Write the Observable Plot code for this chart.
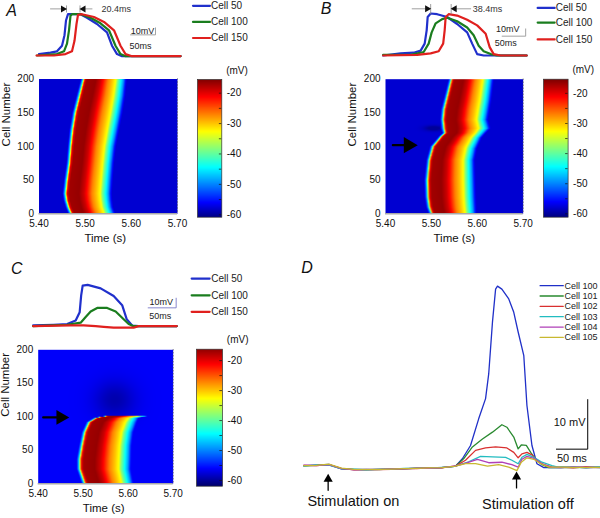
<!DOCTYPE html>
<html><head><meta charset="utf-8">
<script src="https://cdn.jsdelivr.net/npm/d3@7"></script>
<script src="https://cdn.jsdelivr.net/npm/@observablehq/plot@0.6"></script>
<style>
html,body{margin:0;padding:0;background:#fff}
#page{position:relative;width:600px;height:518px;overflow:hidden;font-family:"Liberation Sans",Arial,sans-serif}
#page svg{position:absolute;display:block}
#page svg image{filter:blur(.4px)}
</style></head><body><div id="page"></div>
<script>
// ---------- Jet colour scale (mV) ----------
const jetMv = [-61,-56,-44.4,-32.6,-21.2,-15.5];
const jetColors = ["#000080","#0000ff","#00ffff","#ffff00","#ff0000","#800000"];
const mvTicks = [-60,-50,-40,-30,-20];
const mvMinor = [-60,-55,-50,-45,-40,-35,-30,-25,-20];

// ---------- Voltage across one action potential, as seen along a row of the maps ----------
const phasePos = [-0.11,-0.07,-0.035,-0.015,0,0.025,0.07,0.3,0.42,0.5,0.61,0.72,0.81,0.85,0.93,1.0,1.05,1.12];
const phaseMv  = [-60,-54,-46,-36,-28,-20,-17,-16.5,-19,-22,-27,-30,-33,-38,-44,-49,-55,-60];

// ---------- Panel A map ----------
const aCells = [0,10,20,30,50,75,100,125,150,175,200];
const aOnset = [5.471,5.465,5.461,5.459,5.462,5.467,5.470,5.474,5.480,5.489,5.498];
const aEnd   = [5.558,5.553,5.551,5.550,5.552,5.555,5.559,5.566,5.573,5.579,5.583];
// ---------- Panel B map ----------
const bOnsetCells = [0,10,25,50,80,100,115,120,127,140,155,180,200];
const bOnset = [5.502,5.497,5.494,5.493,5.497,5.505,5.523,5.531,5.529,5.527,5.529,5.538,5.545];
const bEndCells = [0,25,50,80,97,113,123,127,140,168,200];
const bEnd = [5.591,5.589,5.588,5.587,5.592,5.603,5.616,5.621,5.616,5.623,5.629];
// ---------- Panel C map ----------
const cCells = [0,22,37,57,77,92,98.5,101];
const cOnset = [5.505,5.494,5.494,5.499,5.505,5.515,5.531,5.553];
const cEnd   = [5.605,5.599,5.600,5.601,5.605,5.613,5.618,5.639];

// ---------- Traces, panel A (ms, mV above rest) ----------
const aBlueT=[5,28,41,51,56,59,63,88,101,121,141,151,161,171,181];
const aBlueV=[3,5,7,15,30,51,60,60,55,46,34,15,3,0,0];
const aGreenT=[1,41,55,61,65,68,71,88,108,128,145,158,168,178];
const aGreenV=[1,3,7,18,37,58,60,60,55,47,37,15,3,0];
const aRedT=[0,35,58,71,76,80,83,91,115,135,155,168,178,191,288];
const aRedV=[1,1,3,7,22,46,59,60,56,49,37,15,3,0,0];
// ---------- Traces, panel B ----------
const bBlueT=[35,61,75,83,87,89,95,108,128,148,168,178,188,201,218];
const bBlueV=[3,4,7,17,36,55,60,59,55,45,33,17,2,0,0];
const bGreenT=[0,55,81,91,97,105,118,128,148,168,181,191,201,215,228];
const bGreenV=[1,1,5,17,33,46,52,54,49,40,29,14,6,2,0];
const bRedT=[0,68,95,111,120,123,125,131,148,168,188,205,213,221,235,287];
const bRedV=[0,1,3,6,17,36,55,59,57,51,43,31,12,2,0,0];
// ---------- Traces, panel C ----------
const cBlueT=[0,41,68,85,93,96,99,109,135,161,178,187,198,211];
const cBlueV=[1,2,3,8,20,44,58,59,54,43,30,10,1,0];
const cGreenT=[0,68,95,105,115,128,148,165,181,191,201,211];
const cGreenV=[0,2,5,13,21,26,26,21,10,3,0,0];
const cRedT=[0,75,101,125,141,161,201,211,287];
const cRedV=[0,1,1,0,-1,-2,-2,0,0];
// ---------- Traces, panel D ----------
const dLeftT=[0,20,40,60,80,100,120,140,160,180,200,220,240];
const dTailT=[410,430,450,473];
const d100L=[.30,.40,.55,-.35,-.50,-.55,-.45,-.40,-.30,-.25,-.25,-.10,.15];
const d101L=[.25,.35,.45,-.30,-.45,-.45,-.50,-.35,-.35,-.20,-.20,-.10,.15];
const d102L=[.35,.30,.50,-.25,-.55,-.50,-.50,-.45,-.30,-.30,-.15,-.15,.20];
const d103L=[.25,.40,.40,-.35,-.40,-.55,-.40,-.40,-.25,-.25,-.20,-.05,.15];
const d104L=[.40,.30,.50,-.30,-.50,-.45,-.45,-.35,-.35,-.20,-.25,-.10,.20];
const d105L=[.30,.35,.60,-.20,-.45,-.50,-.45,-.40,-.30,-.25,-.15,-.10,.15];
const d100T=[242,253,266,279,290,295,301,306,309,316,327,335,342,351,356,364,372,383,396];
const d100V=[.2,1.7,4.4,9.8,13.9,18.9,29.4,36.1,36.7,36.1,34.1,31.4,27.4,22.6,12.5,4.4,.7,-.1,-.1];
const d101T=[242,255,269,285,301,316,324,335,342,347,355,362,370,380,391];
const d101V=[.2,1.7,4.1,5.7,7.1,8.6,8.1,6.1,3.7,4.5,4.4,3.0,1.6,.5,-.1];
const d102T=[242,258,274,290,306,324,335,342,348,356,364,372,383,396];
const d102V=[.2,1.4,3.4,3.9,4.1,3.9,3.0,1.9,2.7,3.0,2.5,1.4,.5,0];
const d103T=[242,263,282,301,322,332,342,348,356,367,380,396,407];
const d103V=[.2,1.1,2.2,2.1,2.0,1.4,.7,2.0,2.6,2.0,1.0,.3,-.05];
const d104T=[242,261,277,295,316,332,342,348,356,367,380,394];
const d104V=[.2,.9,1.6,.9,1.0,.5,0,1.6,2.2,1.8,.7,0];
const d105T=[242,258,274,293,311,327,340,347,356,367,378,391];
const d105V=[.2,.7,.7,.2,.5,0,-.7,1.0,1.9,1.6,.7,0];
const dTails=[[-.1,.05,-.15,0],[-.05,-.1,0,-.1],[0,-.15,.05,-.05],[.05,-.05,-.1,.05],[-.1,0,-.05,-.1],[0,-.05,-.1,-.05]];
const dNames=["Cell 100","Cell 101","Cell 102","Cell 103","Cell 104","Cell 105"];
const dColors=["#2030c8","#2a8a30","#d93030","#22bcc0","#b040b8","#c8b830"];

const font = '"Liberation Sans",Arial,sans-serif';
const colorOpt = {type:"linear",domain:jetMv,range:jetColors,interpolate:"rgb"};
const page = document.getElementById("page");
function place(svg,left,top){svg.style.left=left+"px";svg.style.top=top+"px";svg.style.background="none";page.appendChild(svg);}
const lerp = (xs,ys) => d3.scaleLinear().domain(xs).range(ys).clamp(true);

// ---------- Map + axes ----------
function heat({left,top,mL,mT,iW,iH,onsetCells,onset,endCells,end,bg,blobs=[],extra=[],labelDx=0}){
  const fO=lerp(onsetCells,onset), fE=lerp(endCells,end), fP=lerp(phasePos,phaseMv);
  const maxCell=onsetCells[onsetCells.length-1];
  const volt=(t,c)=>{
    let b=bg;
    for(const [t0,c0,rt,rc,d] of blobs) b+=d*Math.exp(-(((t-t0)/rt)**2)-(((c-c0)/rc)**2));
    if(c>maxCell) return b;
    const o=fO(c),e=fE(c);
    return Math.max(b,fP((t-o)/(e-o)));
  };
  const W=mL+iW+14,H=mT+iH+40;
  const svg=Plot.plot({width:W,height:H,marginLeft:mL,marginRight:14,marginTop:mT,marginBottom:40,
    style:{fontFamily:font,background:"none",overflow:"visible",color:"#111"},
    x:{domain:[5.4,5.7]},y:{domain:[0,200]},color:colorOpt,
    marks:[
      Plot.raster({x1:5.4,x2:5.7,y1:0,y2:200,fill:volt,pixelSize:1}),
      Plot.ruleY([0],{stroke:"#a8a8a8",strokeWidth:1.5}),
      Plot.ruleX([5.7],{stroke:"#555",strokeDasharray:"1 2"}),
      Plot.axisX({ticks:[5.4,5.5,5.6,5.7],tickFormat:d3.format(".2f"),tickSize:0,tickPadding:6,label:null,fontSize:10}),
      Plot.axisY({ticks:[0,50,100,150,200],tickSize:0,tickPadding:5,label:null,fontSize:10}),
      Plot.text(["Time (s)"],{frameAnchor:"bottom",dx:labelDx,dy:28.5,fontSize:11.5,fill:"#111"}),
      Plot.text(["Cell Number"],{frameAnchor:"left",dx:-33,rotate:-90,fontSize:11.5,fill:"#111"}),
      ...extra
    ]});
  place(svg,left,top);
}
function blackArrow(tail,center,tip,cell,r){
  return [
    Plot.line([[tail,cell],[center,cell]],{stroke:"#000",strokeWidth:2.2}),
    Plot.dot([[center,cell]],{symbol:"triangle",rotate:90,r,fill:"#000",stroke:"none"})
  ];
}
// ---------- Colour bar ----------
function bar({left,top,iW,mT,iH,dom,labelY}){
  const svg=Plot.plot({width:iW+6+30,height:mT+iH+6,marginLeft:6,marginRight:30,marginTop:mT,marginBottom:6,
    style:{fontFamily:font,background:"none",overflow:"visible",color:"#111"},
    x:{domain:[0,1],axis:null},y:{domain:dom},color:colorOpt,
    marks:[
      Plot.raster({x1:0,x2:1,y1:dom[0],y2:dom[1],fill:(x,y)=>y,pixelSize:1}),
      Plot.ruleY(mvMinor,{x1:0.9,x2:1,stroke:"#111",strokeWidth:.7}),
      Plot.frame({stroke:"#333",strokeWidth:.7}),
      Plot.axisY({anchor:"right",ticks:mvTicks,tickSize:0,tickPadding:5,tickFormat:d=>String(d),label:null,fontSize:10}),
      Plot.text(["(mV)"],{frameAnchor:"top-right",dx:26,dy:labelY,textAnchor:"end",fontSize:10,fill:"#111"})
    ]});
  place(svg,left,top);
}
// ---------- Traces ----------
const col={b:"#2030cc",g:"#1a7d1e",r:"#e0201e"};
function toRows(T,V){return T.map((t,i)=>({t,v:V[i]}));}
function traces({left,top,W,H,x0,y0,pxMs,pxMv,lines,marks,lw=2.2}){
  const svg=Plot.plot({width:W,height:H,margin:0,
    style:{fontFamily:font,background:"none",overflow:"visible",color:"#111"},
    x:{domain:[-x0/pxMs,(W-x0)/pxMs],axis:null},
    y:{domain:[(y0-H)/pxMv,y0/pxMv],axis:null},
    marks:[
      ...lines.map(l=>Plot.line(toRows(l.T,l.V),{x:"t",y:"v",stroke:l.c,strokeWidth:lw,strokeLinejoin:"round"})),
      ...marks
    ]});
  place(svg,left,top);
}
function legend(x1,x2,xt,ys,names,colors,fs,lw){
  return names.flatMap((n,i)=>[
    Plot.line([[x1,ys[i]],[x2,ys[i]]],{stroke:colors[i],strokeWidth:lw}),
    Plot.text([[xt,ys[i]]],{text:()=>n,textAnchor:"start",fontSize:fs,fill:"#222"})
  ]);
}
function caliper(y,lLine,lTip,rTip,rLine,tY1,tY2,label,labelX){
  const g="#888";
  return [
    Plot.line([[lLine,y],[lTip-4,y]],{stroke:g,strokeWidth:.8}),
    Plot.line([[rTip+4,y],[rLine,y]],{stroke:g,strokeWidth:.8}),
    Plot.line([[lTip,tY1],[lTip,tY2]],{stroke:g,strokeWidth:.8}),
    Plot.line([[rTip,tY1],[rTip,tY2]],{stroke:g,strokeWidth:.8}),
    Plot.dot([[lTip-7,y]],{symbol:"triangle",rotate:90,r:2.6,fill:"#111",stroke:"none"}),
    Plot.dot([[rTip+7,y]],{symbol:"triangle",rotate:-90,r:2.6,fill:"#111",stroke:"none"}),
    Plot.text([[labelX,y]],{text:()=>label,textAnchor:"start",fontSize:9,fill:"#333"})
  ];
}
function scaleBar(x1,x2,y1,y2,c,t1,t2){
  return [
    Plot.line([[x1,y1],[x2,y1],[x2,y2]],{stroke:c,strokeWidth:.9}),
    Plot.text([[t1[0],t1[1]]],{text:()=>"10mV",fontSize:9,fill:"#222"}),
    Plot.text([[t2[0],t2[1]]],{text:()=>"50ms",fontSize:9,fill:"#222"})
  ];
}
function letter(s,x,y){return Plot.text([[x,y]],{text:()=>s,fontSize:16,fontStyle:"italic",fill:"#111"});}
const cell3=["Cell 50","Cell 100","Cell 150"], col3=[col.b,col.g,col.r];

// Panel A
traces({left:0,top:0,W:290,H:70,x0:36,y0:55.7,pxMs:.5,pxMv:.7,
  lines:[{T:aBlueT.concat([288]),V:aBlueV.concat([0]),c:col.b},{T:aGreenT.concat([288]),V:aGreenV.concat([0]),c:col.g},{T:aRedT,V:aRedV,c:col.r}],
  marks:[letter("A",-50,65),
    ...caliper(67.6,28,60,87,111,63,72,"20.4ms",130),
    ...scaleBar(188,238,30.5,40.5,"#999",[212,36],[208,15]),
    ...legend(313,347,349,[72,49,26],cell3,col3,10,2.2)]});
heat({left:0,top:60,mL:38.5,mT:18.5,iW:138.5,iH:134.8,onsetCells:aCells,onset:aOnset,endCells:aCells,end:aEnd,bg:-57.8,labelDx:-3});
bar({left:190.7,top:60,iW:24.3,mT:19,iH:137.7,dom:[-60.8,-15.5],labelY:-13});

// Panel B
traces({left:300,top:0,W:300,H:70,x0:82.67,y0:55,pxMs:.5,pxMv:.7,
  lines:[{T:[0].concat(bBlueT,[287]),V:[0].concat(bBlueV,[0]),c:col.b},{T:bGreenT.concat([287]),V:bGreenV.concat([0]),c:col.g},{T:bRedT,V:bRedV,c:col.r}],
  marks:[letter("B",-114,66),
    ...caliper(66.7,58,95,136,175,59.5,73,"38.4ms",179),
    ...scaleBar(238,285,27.6,38,"#999",[249,37],[245,17]),
    ...legend(309,343,345,[68,47,23],cell3,col3,10,2.2)]});
heat({left:340,top:60,mL:45,mT:18.7,iW:137.7,iH:134.6,onsetCells:bOnsetCells,onset:bOnset,endCells:bEndCells,end:bEnd,bg:-57.8,blobs:[[5.505,127,.02,4,-3]],labelDx:0,
  extra:blackArrow(5.416,5.450,0,102,6)});
bar({left:536.7,top:60,iW:24.6,mT:18.7,iH:138,dom:[-61.1,-15.3],labelY:-13});

// Panel C
traces({left:0,top:255,W:290,H:90,x0:32.67,y0:70.67,pxMs:.5,pxMv:.7,
  lines:[{T:cBlueT.concat([287]),V:cBlueV.concat([0]),c:col.b},{T:cGreenT.concat([287]),V:cGreenV.concat([0]),c:col.g},{T:cRedT,V:cRedV,c:col.r}],
  marks:[letter("C",-33,81.7),
    ...scaleBar(230,286,26.2,40,"#7a7ac8",[256,34.8],[254,14]),
    ...legend(317,353,356,[68,44,20.5],cell3,col3,10,2.2)]});
heat({left:0,top:330,mL:37.7,mT:19.3,iW:135,iH:134,onsetCells:cCells,onset:cOnset,endCells:cCells,end:cEnd,bg:-56.2,
  blobs:[[5.57,125,.045,28,-3]],labelDx:-2,
  extra:blackArrow(5.411,5.450,0,99,5.5)});
bar({left:189.7,top:330,iW:26,mT:18.7,iH:137,dom:[-61.9,-16.2],labelY:-13});

// Panel D
const dLeft=[d100L,d101L,d102L,d103L,d104L,d105L];
const dT=[d100T,d101T,d102T,d103T,d104T,d105T], dV=[d100V,d101V,d102V,d103V,d104V,d105V];
function upArrow(x,y1,tip){
  return [Plot.line([[x,y1],[x,tip-1.5]],{stroke:"#000",strokeWidth:1.3}),
          Plot.dot([[x,tip-1.05]],{symbol:"triangle",r:3.4,fill:"#000",stroke:"none"})];
}
traces({left:295,top:255,W:305,H:263,x0:8.33,y0:211.67,pxMs:.6267,pxMv:4.933,lw:1.3,
  lines:dNames.map((n,i)=>({T:dLeftT.concat(dT[i],dTailT),V:dLeft[i].concat(dV[i],dTails[i]),c:dColors[i]})),
  marks:[letter("D",5,40.5),
    ...legend(377,414,416,[36.8,34.7,32.6,30.5,28.4,26.3],dNames,dColors,9,1.3),
    Plot.line([[403,3.65],[453,3.65],[453,13.7]],{stroke:"#000",strokeWidth:1}),
    Plot.text([[449.5,9.1]],{text:()=>"10 mV",textAnchor:"end",fontSize:11,fill:"#111"}),
    Plot.text([[427.7,1.7]],{text:()=>"50 ms",fontSize:11,fill:"#111"}),
    ...upArrow(38.8,-4.7,-1.35),...upArrow(339.4,-4.2,-.9),
    Plot.text([[79,-7]],{text:()=>"Stimulation on",fontSize:14.5,fill:"#111"}),
    Plot.text([[357.5,-7.6]],{text:()=>"Stimulation off",fontSize:14.5,fill:"#111"})
  ]});
</script></body></html>
